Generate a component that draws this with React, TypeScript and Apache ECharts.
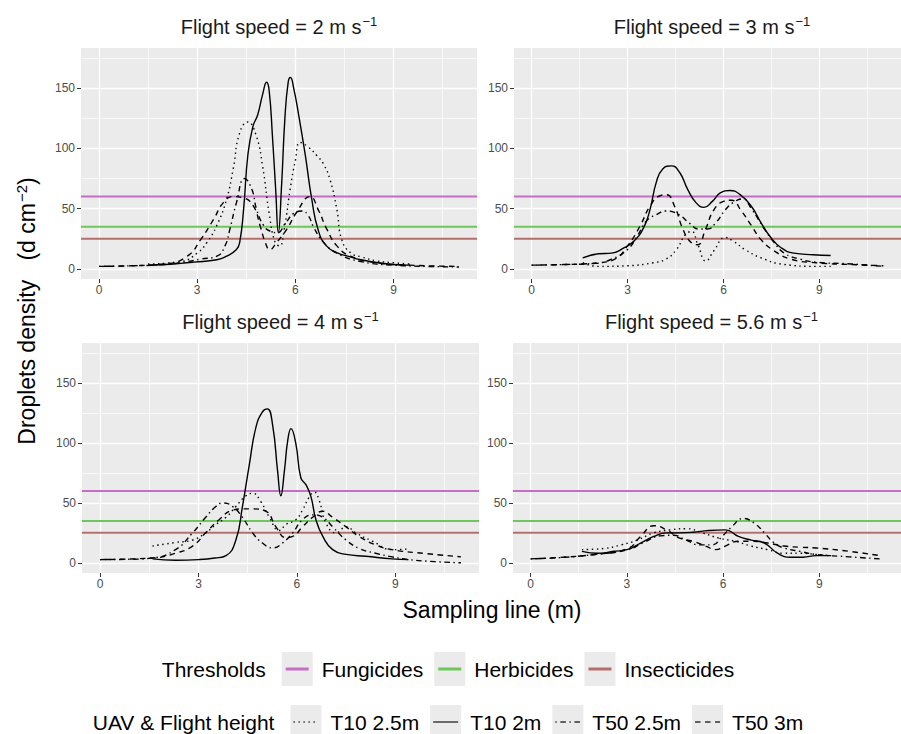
import React, { useEffect, useRef } from 'react';
import * as echarts from 'echarts';

type Pt = [number, number];

// ---------------- data ----------------
const SPEEDS = ['2', '3', '4', '5.6'];
const X_TICKS = [0, 3, 6, 9];
const X_MINOR = [1.5, 4.5, 7.5, 10.5];
const Y_TICKS = [0, 50, 100, 150];
const Y_MINOR = [25, 75, 125, 175];
const X_RANGE: [number, number] = [-0.55, 11.55];
const Y_RANGE: [number, number] = [-8.5, 183.5];

const THRESHOLD_NAMES = ['Fungicides', 'Herbicides', 'Insecticides'];
const THRESHOLD_VALUES = [60, 35, 25];
const THRESHOLD_COLORS = ['#C66DC6', '#6FC65A', '#B3706B'];

const UAV_NAMES = ['T10 2.5m', 'T10 2m', 'T50 2.5m', 'T50 3m'];

// Flight speed = 2 m/s
const S2_T10_25: Pt[] = [[1.5, 4], [2.5, 6], [3.0, 13], [3.3, 22], [3.6, 36], [3.9, 58], [4.1, 83], [4.3, 113], [4.55, 122], [4.8, 111], [5.0, 85], [5.2, 46], [5.38, 22], [5.52, 19], [5.66, 33], [5.84, 66], [6.0, 90], [6.15, 105], [6.4, 101], [6.66, 94], [6.86, 87], [7.06, 74], [7.27, 49], [7.42, 24], [7.7, 13], [8.0, 10], [8.5, 6.5], [9.0, 5], [9.5, 4]];
const S2_T10_2: Pt[] = [[1.5, 3], [2.0, 3.5], [2.5, 4.5], [2.9, 5.5], [3.6, 7.5], [3.9, 10.5], [4.2, 16], [4.3, 22], [4.42, 50], [4.55, 95], [4.7, 118], [4.85, 128], [5.0, 145], [5.12, 155], [5.2, 148], [5.3, 110], [5.4, 65], [5.48, 30], [5.58, 70], [5.68, 125], [5.78, 155], [5.85, 159], [5.95, 150], [6.1, 128], [6.3, 95], [6.5, 58], [6.7, 32], [6.95, 19], [7.3, 13], [7.6, 10.5], [8.0, 7.5], [9.0, 3.5], [9.5, 3]];
const S2_T50_25: Pt[] = [[0, 2], [1, 2.5], [2, 3.5], [2.7, 6], [3.1, 8], [3.6, 10.5], [3.85, 19], [4.0, 33], [4.2, 55], [4.45, 75], [4.67, 66], [4.82, 49], [5.03, 36], [5.25, 31], [5.45, 30], [5.7, 38], [5.95, 46], [6.2, 48], [6.4, 44], [6.55, 35], [6.86, 22], [7.27, 13], [8.0, 6], [9.0, 3], [10, 2], [11, 1.5]];
const S2_T50_3: Pt[] = [[0, 2], [1, 2.5], [2, 4], [2.7, 10.5], [3.1, 24], [3.5, 41], [3.8, 55], [4.1, 60], [4.4, 59], [4.72, 52], [4.92, 36], [5.08, 22], [5.22, 16], [5.43, 22], [5.74, 33], [6.04, 47], [6.45, 60], [6.7, 49], [6.96, 33], [7.27, 19], [7.68, 10.5], [8.5, 5], [9.5, 3], [11, 2]];

// Flight speed = 3 m/s
const S3_T10_25: Pt[] = [[1.6, 5], [2.1, 2], [3.0, 2.5], [3.8, 5], [4.2, 8], [4.53, 16], [4.8, 28], [5.0, 31], [5.2, 20], [5.45, 6.5], [5.7, 15], [6.05, 26], [6.3, 23], [6.67, 16], [7.18, 9], [7.9, 3.6], [8.9, 2], [9.4, 2]];
const S3_T10_2: Pt[] = [[1.6, 9], [2.1, 12.5], [2.5, 13], [2.9, 17.5], [3.2, 23], [3.5, 34], [3.7, 49], [3.9, 72], [4.1, 83], [4.37, 85.5], [4.63, 80], [4.88, 66], [5.14, 55], [5.39, 51], [5.65, 56], [5.9, 63], [6.2, 65], [6.5, 62], [6.87, 52], [7.18, 38], [7.48, 26], [7.8, 17.5], [8.2, 13], [8.8, 11.7], [9.35, 11]];
const S3_T50_25: Pt[] = [[0, 3], [1, 3.5], [2, 4.5], [2.5, 8], [3.0, 16], [3.3, 27], [3.6, 40], [3.9, 45], [4.2, 48], [4.6, 45], [4.93, 38], [5.24, 33], [5.5, 33], [5.75, 38], [6.06, 49], [6.3, 55], [6.6, 58], [6.87, 50], [7.28, 33], [7.58, 22], [7.9, 13], [8.4, 8], [8.9, 5.5], [10, 4], [11, 2]];
const S3_T50_3: Pt[] = [[0, 3], [1, 3.5], [1.6, 4], [2.1, 5], [2.6, 8], [3.0, 19], [3.4, 36], [3.7, 52], [4.0, 60.5], [4.22, 61.5], [4.47, 52], [4.73, 33], [4.98, 22], [5.19, 20], [5.44, 33], [5.7, 49], [6.0, 56], [6.25, 57], [6.56, 48], [6.87, 36], [7.18, 24], [7.58, 15], [8.1, 8], [8.9, 5], [10, 3.5], [11, 2.5]];

// Flight speed = 4 m/s
const S4_T10_25: Pt[] = [[1.6, 14], [2.3, 17], [2.82, 19], [3.22, 25], [3.53, 32], [3.84, 38], [4.14, 47], [4.45, 56], [4.65, 58], [4.9, 51], [5.16, 38], [5.46, 27], [5.67, 32], [5.97, 36], [6.17, 44], [6.38, 55], [6.53, 59], [6.68, 52], [6.89, 33], [7.19, 25], [7.5, 30], [7.8, 25], [8.3, 18], [8.9, 11], [9.4, 11.5]];
const S4_T10_2: Pt[] = [[1.6, 3.3], [2.3, 2.2], [3.0, 2.7], [3.5, 4], [3.84, 6], [4.14, 19], [4.34, 47], [4.55, 82], [4.75, 113], [4.95, 126], [5.1, 128.5], [5.26, 115], [5.41, 77], [5.51, 56], [5.62, 77], [5.72, 102], [5.82, 112], [5.97, 99], [6.12, 71], [6.28, 65], [6.43, 55], [6.58, 36], [6.79, 22], [7.09, 11], [7.5, 7], [8.1, 5.5], [8.9, 3.3], [9.4, 2.7]];
const S4_T50_25: Pt[] = [[0, 2.7], [1, 3], [1.6, 4], [2.3, 11], [2.82, 25], [3.22, 38], [3.53, 47], [3.75, 50], [4.04, 47], [4.34, 38], [4.65, 25], [4.95, 16.5], [5.26, 12.5], [5.56, 16.5], [5.87, 25], [6.17, 36], [6.48, 40], [6.79, 38], [7.09, 30], [7.5, 19], [7.9, 12], [8.4, 8], [8.9, 5], [9.4, 2.7], [10.2, 1], [11, 0]];
const S4_T50_3: Pt[] = [[0, 2.7], [1.6, 4], [2.3, 8], [2.82, 14], [3.22, 25], [3.63, 36], [4.04, 44], [4.34, 45], [4.65, 45], [5.06, 43], [5.36, 30], [5.67, 21], [5.87, 22], [6.17, 30], [6.48, 38], [6.79, 43], [7.09, 38], [7.5, 30], [7.9, 22], [8.4, 15], [8.9, 11], [9.94, 7.7], [11, 5]];

// Flight speed = 5.6 m/s
const S56_T10_25: Pt[] = [[1.6, 11], [2.3, 12], [2.82, 15], [3.33, 19], [3.84, 25], [4.35, 27.5], [4.85, 28.5], [5.36, 25], [5.87, 20.6], [6.38, 18], [6.88, 14], [7.39, 11], [7.9, 8], [8.4, 8], [8.9, 7], [9.37, 6]];
const S56_T10_2: Pt[] = [[1.6, 9.6], [2.1, 8], [2.6, 9.6], [3.0, 11], [3.43, 16.5], [3.84, 22], [4.24, 25], [4.65, 25], [5.06, 25.5], [5.56, 27], [6.07, 27.5], [6.48, 22], [6.88, 19], [7.29, 16.5], [7.7, 8], [8.1, 4.7], [8.5, 4.7], [8.9, 6], [9.37, 6]];
const S56_T50_25: Pt[] = [[0, 3.3], [1, 4.5], [2, 7], [3.03, 11], [3.53, 17], [4.04, 22.5], [4.45, 23], [4.85, 19], [5.26, 15], [5.66, 15], [5.97, 22], [6.27, 30], [6.63, 37], [6.98, 33], [7.29, 25], [7.6, 16.5], [7.9, 12.4], [8.4, 9.6], [8.9, 7], [9.93, 5], [10.9, 3.3]];
const S56_T50_3: Pt[] = [[0, 3.3], [1, 4.7], [2, 7], [3.03, 12], [3.43, 22], [3.84, 31], [4.24, 27.5], [4.65, 20.6], [5.06, 18], [5.46, 14], [5.77, 11], [6.07, 14], [6.48, 18], [6.88, 18], [7.39, 16.5], [7.9, 14], [8.4, 13], [8.9, 12.4], [9.93, 9.6], [10.9, 6]];

const PANEL_CURVES: Pt[][][] = [
  [S2_T10_25, S2_T10_2, S2_T50_25, S2_T50_3],
  [S3_T10_25, S3_T10_2, S3_T50_25, S3_T50_3],
  [S4_T10_25, S4_T10_2, S4_T50_25, S4_T50_3],
  [S56_T10_25, S56_T10_2, S56_T50_25, S56_T50_3],
];

// ---------------- layout / style ----------------
const W = 901;
const H = 734;
const FONT = '"Liberation Sans", Arial, Helvetica, sans-serif';
const PANEL_BG = '#EBEBEB';
const GRID_BOXES = [
  { left: 81, top: 48, width: 396, height: 231 },
  { left: 514, top: 48, width: 396, height: 231 },
  { left: 82, top: 343, width: 397, height: 230 },
  { left: 513, top: 343, width: 397, height: 230 },
];
const UAV_DASH: any[] = [[1.4, 3.6], 'solid', [1.4, 3.6, 5.5, 3.6], [5.5, 4.5]];

function measure(text: string, size: number): number {
  const c = document.createElement('canvas').getContext('2d');
  if (!c) return text.length * size * 0.5;
  c.font = `${size}px ${FONT}`;
  return c.measureText(text).width;
}

function buildOption(): any {
  const grid: any[] = [];
  const xAxis: any[] = [];
  const yAxis: any[] = [];
  const series: any[] = [];
  const graphic: any[] = [];

  PANEL_CURVES.forEach((curves, i) => {
    const g = GRID_BOXES[i];
    grid.push({ ...g, show: true, backgroundColor: PANEL_BG, borderWidth: 0, containLabel: false });
    xAxis.push({
      type: 'value', gridIndex: i, min: X_RANGE[0], max: X_RANGE[1],
      axisLine: { show: false, onZero: false },
      axisTick: { show: true, customValues: X_TICKS, length: 4, lineStyle: { color: '#333333', width: 1 } },
      axisLabel: { customValues: X_TICKS, margin: 5, color: '#4D4D4D', fontSize: 12, fontFamily: FONT },
      splitLine: { show: false },
    });
    yAxis.push({
      type: 'value', gridIndex: i, min: Y_RANGE[0], max: Y_RANGE[1],
      axisLine: { show: false, onZero: false },
      axisTick: { show: true, customValues: Y_TICKS, length: 4, lineStyle: { color: '#333333', width: 1 } },
      axisLabel: { customValues: Y_TICKS, margin: 6, color: '#4D4D4D', fontSize: 12, fontFamily: FONT },
      splitLine: { show: false },
    });
    const vLines = (vals: number[]) => vals.map((v) => ({ coords: [[v, Y_RANGE[0]], [v, Y_RANGE[1]]] }));
    const hLines = (vals: number[]) => vals.map((v) => ({ coords: [[X_RANGE[0], v], [X_RANGE[1], v]] }));
    series.push({
      type: 'lines', coordinateSystem: 'cartesian2d', xAxisIndex: i, yAxisIndex: i, silent: true, z: 1,
      lineStyle: { color: '#FFFFFF', width: 0.7, opacity: 1, curveness: 0 },
      data: [...vLines(X_MINOR), ...hLines(Y_MINOR)],
    });
    series.push({
      type: 'lines', coordinateSystem: 'cartesian2d', xAxisIndex: i, yAxisIndex: i, silent: true, z: 1,
      lineStyle: { color: '#FFFFFF', width: 1.3, opacity: 1, curveness: 0 },
      data: [...vLines(X_TICKS), ...hLines(Y_TICKS)],
    });
    THRESHOLD_VALUES.forEach((v, k) => {
      series.push({
        name: THRESHOLD_NAMES[k], type: 'line', xAxisIndex: i, yAxisIndex: i, silent: true, z: 2,
        symbol: 'none', lineStyle: { color: THRESHOLD_COLORS[k], width: 2 },
        data: [[X_RANGE[0], v], [X_RANGE[1], v]],
      });
    });
    curves.forEach((pts, k) => {
      series.push({
        name: UAV_NAMES[k], type: 'line', xAxisIndex: i, yAxisIndex: i, silent: true, z: 3,
        symbol: 'none', showSymbol: false, smooth: 0.5,
        lineStyle: { color: '#000000', width: 1.4, type: UAV_DASH[k], join: 'round' },
        data: pts,
      });
    });
    // strip title
    graphic.push({
      type: 'text', x: g.left + g.width / 2, y: g.top - 21, silent: true,
      style: {
        text: `{a|Flight speed = ${SPEEDS[i]} m s}{b|−1}`,
        align: 'center', verticalAlign: 'middle',
        rich: {
          a: { fontSize: 20, fontFamily: FONT, fill: '#1A1A1A', lineHeight: 24 },
          b: { fontSize: 13, fontFamily: FONT, fill: '#1A1A1A', lineHeight: 14, verticalAlign: 'top', padding: [0, 0, 0, 1] },
        },
      },
    });
  });

  // axis titles
  graphic.push({
    type: 'text', x: 27, y: 311, rotation: Math.PI / 2, silent: true,
    style: {
      text: '{a|Droplets density   (d cm}{b|−2}{a|)}',
      align: 'center', verticalAlign: 'middle',
      rich: {
        a: { fontSize: 23, fontFamily: FONT, fill: '#000000', lineHeight: 27 },
        b: { fontSize: 15, fontFamily: FONT, fill: '#000000', lineHeight: 16, verticalAlign: 'top', padding: [0, 0, 0, 1] },
      },
    },
  });
  graphic.push({
    type: 'text', x: 492, y: 610, silent: true,
    style: { text: 'Sampling line (m)', align: 'center', verticalAlign: 'middle', fontSize: 23, fontFamily: FONT, fill: '#000000' },
  });

  // legends
  const LEG_FS = 21;
  const KEY_W = 31;
  const KEY_H = 34;
  const GAP_T = 16;
  const GAP_K = 9;
  const GAP_I = 11;
  const LEG_CX = 448;
  const legendRow = (title: string, labels: string[], cy: number, drawKey: (k: number, x: number, y: number) => any) => {
    const tw = measure(title, LEG_FS);
    const lw = labels.map((l) => measure(l, LEG_FS));
    const total = tw + GAP_T + lw.reduce((s, w) => s + KEY_W + GAP_K + w, 0) + GAP_I * (labels.length - 1);
    let x = LEG_CX - total / 2;
    graphic.push({ type: 'text', x, y: cy, silent: true, style: { text: title, align: 'left', verticalAlign: 'middle', fontSize: LEG_FS, fontFamily: FONT, fill: '#000000' } });
    x += tw + GAP_T;
    labels.forEach((l, k) => {
      graphic.push({ type: 'rect', silent: true, shape: { x, y: cy - KEY_H / 2, width: KEY_W, height: KEY_H }, style: { fill: PANEL_BG } });
      graphic.push(drawKey(k, x, cy));
      x += KEY_W + GAP_K;
      graphic.push({ type: 'text', x, y: cy, silent: true, style: { text: l, align: 'left', verticalAlign: 'middle', fontSize: LEG_FS, fontFamily: FONT, fill: '#000000' } });
      x += lw[k] + GAP_I;
    });
  };
  legendRow('Thresholds', THRESHOLD_NAMES, 669, (k, x, cy) => ({
    type: 'line', silent: true, z: 10,
    shape: { x1: x + 4, y1: cy, x2: x + KEY_W - 4, y2: cy },
    style: { stroke: THRESHOLD_COLORS[k], lineWidth: 3 },
  }));
  legendRow('UAV & Flight height', UAV_NAMES, 722, (k, x, cy) => ({
    type: 'line', silent: true, z: 10,
    shape: { x1: x + 3, y1: cy, x2: x + KEY_W - 3, y2: cy },
    style: { stroke: '#333333', lineWidth: 1.4, lineDash: UAV_DASH[k] === 'solid' ? null : UAV_DASH[k] },
  }));

  return {
    animation: false,
    backgroundColor: '#FFFFFF',
    grid, xAxis, yAxis, series, graphic,
  };
}

export default function App() {
  const ref = useRef<HTMLDivElement>(null);
  useEffect(() => {
    if (!ref.current) return;
    const chart = echarts.init(ref.current, undefined, { renderer: 'svg', width: W, height: H });
    chart.setOption(buildOption());
    return () => chart.dispose();
  }, []);
  return <div ref={ref} style={{ position: 'fixed', left: 0, top: 0, width: W, height: H, background: '#fff' }} />;
}
